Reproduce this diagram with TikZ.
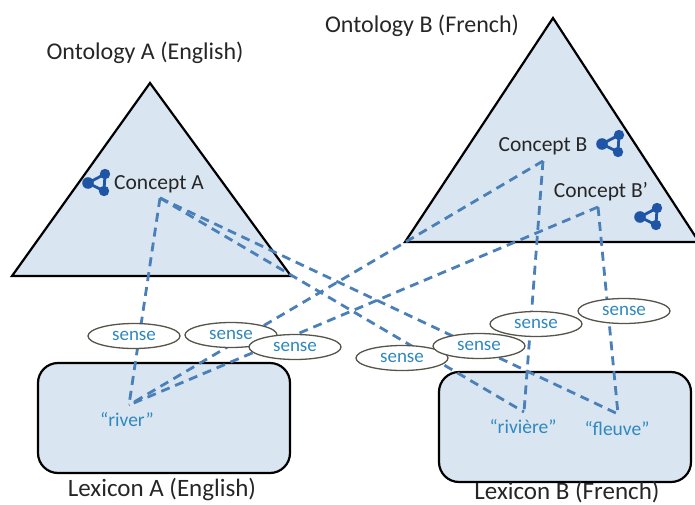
\documentclass[tikz,border=0pt]{standalone}
\usepackage{fontspec}
\setmainfont{Carlito}
\usetikzlibrary{shapes.geometric}
\definecolor{paneblue}{HTML}{D9E5F1}
\definecolor{linkblue}{HTML}{4A7FB8}
\definecolor{wordblue}{HTML}{2F88BE}
\definecolor{iconblue}{HTML}{1F55A5}
\definecolor{rimgrey}{HTML}{55554C}
\begin{document}
\begin{tikzpicture}[x=1pt, y=-1pt,
  tri/.style = {draw=black, fill=paneblue, line width=2.2pt, line join=miter},
  lexbox/.style = {draw=black, fill=paneblue, line width=2.2pt, rounded corners=20pt, minimum width=252pt, minimum height=110pt, inner sep=0pt},
  link/.style = {draw=linkblue, line width=2.8pt, dash pattern=on 9pt off 6pt},
  sensenode/.style = {draw=rimgrey, fill=white, ellipse, line width=1.3pt, minimum width=92pt, minimum height=25pt, inner sep=0pt, text=wordblue, font=\fontsize{19}{19}\selectfont},
  title/.style = {text=black!85, font=\fontsize{24}{24}\selectfont, inner sep=0pt},
  lextitle/.style = {text=black!85, font=\fontsize{25}{25}\selectfont, inner sep=0pt},
  concept/.style = {text=black!85, font=\fontsize{21.5}{21.5}\selectfont, inner sep=0pt},
  word/.style = {text=wordblue, font=\fontsize{19.5}{19.5}\selectfont, inner sep=0pt},
  icon/.pic = {
    \draw[iconblue, line width=2.8pt] (-9,0) -- (8,-9) -- (7,8) -- cycle;
    \fill[iconblue] (-9,0) circle (5.8pt) (8,-9) circle (5.2pt) (7,8) circle (5.2pt);
  }]
\useasboundingbox (0,0) rectangle (695,505);
\draw[tri] (150,83) -- (291,276) -- (12,276) -- cycle;
\begin{scope}
\clip (0,0) rectangle (695,505);
\draw[tri] (553,18) -- (699,242) -- (405,242) -- cycle;
\end{scope}
\node[lexbox] (lexA) at (164,418) {};
\node[lexbox] (lexB) at (565,427) {};
\node[title] (ontoA) at (145,53) {Ontology A (English)};
\node[title] (ontoB) at (422,26) {Ontology B (French)};
\node[lextitle] (nameA) at (162,489) {Lexicon A (English)};
\node[lextitle] (nameB) at (567,492) {Lexicon B (French)};
\node[concept] (cA) at (159,184) {Concept A};
\node[concept] (cB) at (543,146) {Concept B};
\node[concept] (cC) at (601,192) {Concept B’};
\node[word] (river) at (127,420) {“river”};
\node[word] (riviere) at (523,427) {“rivière”};
\node[word] (fleuve) at (617,429) {“fleuve”};
\coordinate (a) at (160,198);
\coordinate (b) at (543,161);
\coordinate (c) at (598,207);
\coordinate (r) at (129,405);
\coordinate (s) at (524,412);
\coordinate (f) at (618,414);
\draw[link] (a) -- (r);
\draw[link] (a) -- (s);
\draw[link] (a) -- (f);
\draw[link] (b) -- (r);
\draw[link] (b) -- (s);
\draw[link] (c) -- (r);
\draw[link] (c) -- (f);
\node[sensenode] (s1) at (134,336) {sense};
\node[sensenode] (s2) at (231,335) {sense};
\node[sensenode] (s3) at (295,347) {sense};
\node[sensenode] (s4) at (402,358) {sense};
\node[sensenode] (s5) at (479,346) {sense};
\node[sensenode] (s6) at (536,324) {sense};
\node[sensenode] (s7) at (624,311) {sense};
\pic at (97,183) {icon};
\pic at (611,144) {icon};
\pic at (649,217) {icon};
\end{tikzpicture}
\end{document}
